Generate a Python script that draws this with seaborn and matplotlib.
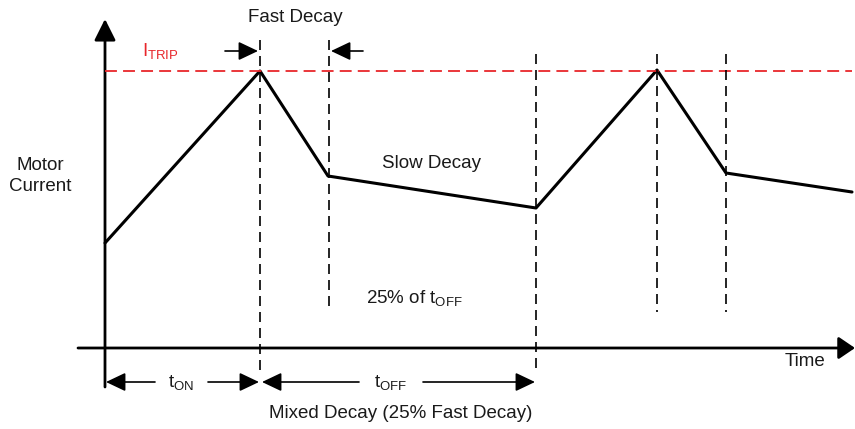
import matplotlib
matplotlib.use("Agg")
import matplotlib.pyplot as plt
import seaborn as sns
import pandas as pd
from matplotlib.patches import FancyArrowPatch

sns.set_theme(style="white")
plt.rcParams['font.family'] = ['Liberation Sans', 'DejaVu Sans']
plt.rcParams['mathtext.fontset'] = 'custom'
plt.rcParams['mathtext.rm'] = 'Liberation Sans'
plt.rcParams['text.color'] = '#1a1a1a'

# waveform corners, in picture units (x right, y down)
wave_x = [105, 260, 328, 536, 657, 726, 852]
wave_y = [243, 71, 176, 208, 70, 173, 192]

trip_level = 71
# dashed markers: x position, top, bottom
marker_x = [260, 329, 536, 657, 726]
marker_top = [40, 40, 54, 54, 54]
marker_bottom = [373, 312, 373, 312, 312]

fig = plt.figure(figsize=(8.55, 4.29), dpi=100)
ax = fig.add_axes([0, 0, 1, 1])
ax.set_xlim(0, 855)
ax.set_ylim(429, 0)
ax.axis("off")

df = pd.DataFrame({"t": wave_x, "i": wave_y})
sns.lineplot(data=df, x="t", y="i", ax=ax, color="black", lw=2.2,
             sort=False, estimator=None)

# trip level
ax.plot([105, 852], [trip_level, trip_level], color="#e8262b", lw=1.3,
        dashes=(6.6, 3.4))
ax.vlines(marker_x, marker_top, marker_bottom, color="black", lw=1.2,
          linestyles=(0, (6, 3.6)))

def arrow(x0, y0, x1, y1, hl, hw, lw):
    ax.add_patch(FancyArrowPatch((x0, y0), (x1, y1),
                 arrowstyle=f"-|>,head_length={hl},head_width={hw}",
                 mutation_scale=1, color="black", lw=lw,
                 shrinkA=0, shrinkB=0))

# axes of the diagram
arrow(105, 387, 105, 19, 13, 6.5, 2)
arrow(78, 348, 855, 348, 10, 6.8, 2)

# dimension arrows
dim_y = 382
arrow(155, dim_y, 106, dim_y, 12, 5.7, 1.2)
arrow(208, dim_y, 259, dim_y, 12, 5.7, 1.2)
arrow(359, dim_y, 262, dim_y, 12, 5.7, 1.2)
arrow(423, dim_y, 535, dim_y, 12, 5.7, 1.2)

# fast decay arrows
arrow(225, 51, 258, 51, 12, 5.7, 1.2)
arrow(363, 51, 331, 51, 12, 5.7, 1.2)

fs = 13.5
ax.text(295, 18, "Fast Decay", ha="center", va="center", fontsize=fs)
ax.text(142, 51, r"$\mathregular{I_{TRIP}}$", ha="left", va="center",
        fontsize=fs, color="#e8262b")
ax.text(40, 176, "Motor\nCurrent", ha="center", va="center", fontsize=fs,
        linespacing=1.25)
ax.text(431, 163, "Slow Decay", ha="center", va="center", fontsize=fs)
ax.text(366, 298, r"25% of $\mathregular{t_{OFF}}$", ha="left",
        va="center", fontsize=fs)
ax.text(805, 362, "Time", ha="center", va="center", fontsize=fs)
ax.text(181, 383, r"$\mathregular{t_{ON}}$", ha="center", va="center",
        fontsize=fs)
ax.text(391, 383, r"$\mathregular{t_{OFF}}$", ha="center", va="center",
        fontsize=fs)
ax.text(401, 413, "Mixed Decay (25% Fast Decay)", ha="center",
        va="center", fontsize=fs)

fig.savefig("out.png", dpi=100, facecolor="white")
